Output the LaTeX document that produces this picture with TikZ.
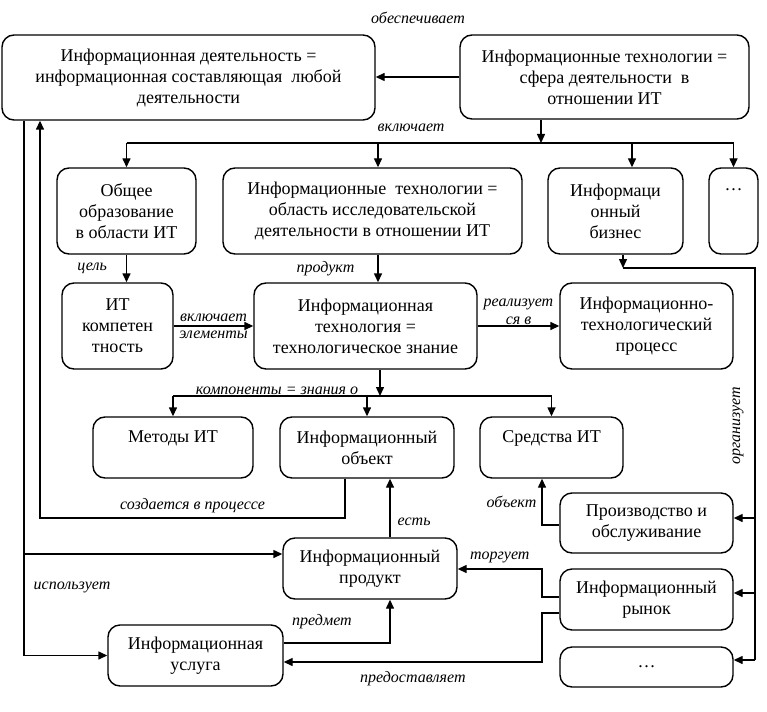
\documentclass[tikz,border=0pt]{standalone}
\usepackage{fontspec}
\setmainfont{Liberation Serif}
\usetikzlibrary{
    arrows.meta,
    positioning
}

\begin{document}
\begin{tikzpicture}[x=1pt, y=-1pt, line width=1.4pt, >={Triangle[length=9pt, width=8pt]},
        box/.style={draw, rounded corners=12pt, align=center, inner sep=0pt, font=\fontsize{18}{21}\selectfont},
        lbl/.style={inner sep=1pt, font=\fontsize{16}{18}\selectfont\itshape}]
                        \useasboundingbox (0, 0) rectangle (767, 711);

                        \node[box, minimum width=373pt, minimum height=85pt] (act) at (188.5, 77.5) {Информационная деятельность =\\информационная составляющая~ любой\\деятельности};
                        \node[box, minimum width=289pt, minimum height=84pt] (sphere) at (604.5, 77) {Информационные технологии =\\сфера деятельности~ в\\отношении ИТ};
                        \node[box, minimum width=139pt, minimum height=86pt] (edu) at (126.5, 211) {Общее\\образование\\в области ИТ};
                        \node[box, minimum width=299pt, minimum height=86pt] (research) at (372.5, 211) {Информационные~ технологии =\\область исследовательской\\деятельности в отношении ИТ};
                        \node[box, minimum width=135pt, minimum height=86pt] (biz) at (615.5, 211) {Информаци\\онный\\бизнес};
                        \node[box, minimum width=49pt, minimum height=86pt] (etca) at (733.5, 211) {\dots\\\mbox{}\\\mbox{}};
                        \node[box, minimum width=111pt, minimum height=86pt] (comp) at (117.5, 326) {ИТ\\компетен\\тность};
                        \node[box, minimum width=223pt, minimum height=86pt] (know) at (365.5, 326) {Информационная\\технология =\\технологическое знание};
                        \node[box, minimum width=173pt, minimum height=86pt] (proc) at (646.5, 326) {Информационно-\\технологический\\процесс};
                        \node[box, minimum width=160pt, minimum height=61pt] (methods) at (173, 447.5) {Методы ИТ\\\mbox{}};
                        \node[box, minimum width=174pt, minimum height=61pt] (object) at (367, 447.5) {Информационный\\объект};
                        \node[box, minimum width=143pt, minimum height=61pt] (means) at (551.5, 447.5) {Средства ИТ\\\mbox{}};
                        \node[box, minimum width=173pt, minimum height=60pt] (prod) at (646.5, 523) {Производство и\\обслуживание};
                        \node[box, minimum width=174pt, minimum height=61pt] (product) at (370, 568.5) {Информационный\\продукт};
                        \node[box, minimum width=173pt, minimum height=61pt] (market) at (646.5, 599.5) {Информационный\\рынок};
                        \node[box, minimum width=175pt, minimum height=61pt] (service) at (195.5, 655.5) {Информационная\\услуга};
                        \node[box, minimum width=173pt, minimum height=40pt] (etcb) at (646.5, 667) {\dots};

                        \node[lbl] (provides) at (418, 18) {обеспечивает};
                        \node[lbl] (includes) at (411, 128) {включает};
                        \node[lbl] (uses) at (72, 587) {использует};
                        \node[lbl, rotate=90] (organizes) at (738, 426) {организует};

                        \coordinate (incl) at (541, 143);
                        \coordinate (jb) at (378, 143);
                        \coordinate (jc) at (632, 143);
                        \coordinate (comps) at (380, 396);
                        \coordinate (crob) at (345, 518);
                        \coordinate (cr) at (40, 518);
                        \coordinate (use) at (24, 554);
                        \coordinate (is) at (390, 643);
                        \coordinate (provm) at (542, 613);
                        \coordinate (prov) at (542, 662);
                        \coordinate (tradem) at (542, 597);
                        \coordinate (trade) at (542, 569);
                        \coordinate (objm) at (542, 525);
                        \coordinate (orga) at (623, 268);
                        \coordinate (orgb) at (755, 268);
                        \coordinate (oa) at (755, 518);
                        \coordinate (ob) at (755, 593);
                        \coordinate (oc) at (755, 660);

                        \draw[->] (sphere.west) -- (sphere.west -| act.east);
                        \draw[->] (sphere.south -| incl) -- (incl);
                        \draw (edu.north |- incl) -- (etca.north |- incl);
                        \draw[->] (edu.north |- incl) -- (edu.north);
                        \draw[->] (jb) -- (jb |- research.north);
                        \draw[->] (jc) -- (jc |- biz.north);
                        \draw[->] (etca.north |- incl) -- (etca.north);

                        \draw[->] (edu.south) -- (edu.south |- comp.north) node[lbl, midway, left=18pt] {цель};
                        \draw[->] (jb |- research.south) -- (jb |- know.north) node[lbl, midway, left=22pt] {продукт};
                        \draw[->] (comp) -- (know)
                            node[lbl, midway, above=3pt] {включает}
                            node[lbl, midway, below=3.5pt] {элементы};
                        \draw[->] (know) -- (proc) node[lbl, midway, above, align=center] {реализует\\ся в};

                        \draw[->] (comps |- know.south) -- (comps);
                        \draw (methods.north |- comps) -- (means.north |- comps) node[lbl, pos=0.275, above] {компоненты = знания о};
                        \draw[->] (methods.north |- comps) -- (methods.north);
                        \draw[->] (object.north |- comps) -- (object.north);
                        \draw[->] (means.north |- comps) -- (means.north);

                        \draw[->] (crob |- object.south) -- (crob) -- (cr) node[lbl, midway, above=3pt] {создается в процессе} -- (cr |- act.south);
                        \draw[->] (use |- act.south) -- (use |- service.west) -- (service.west);
                        \draw[->] (use) -- (use -| product.west);

                        \draw[->] (is |- product.north) -- (is |- object.south) node[lbl, pos=0.27, right=6pt] {есть};
                        \draw[->] (is -| service.east) -- (is) node[lbl, pos=0.36, above=12pt] {предмет} -- (is |- product.south);
                        \draw[->] (provm -| market.west) -- (provm) -- (prov) -- (prov -| service.east) node[lbl, midway, below=8pt] {предоставляет};
                        \draw[->] (tradem -| market.west) -- (tradem) -- (trade) -- (trade -| product.east) node[lbl, midway, above=4pt] {торгует};
                        \draw[->] (objm -| prod.west) -- (objm) -- (objm |- means.south) node[lbl, midway, left=4pt] {объект};

                        \draw[->] (orga |- biz.south) -- (orga);
                        \draw (orga) -- (orgb) -- (oc);
                        \draw[->] (oa) -- (oa -| prod.east);
                        \draw[->] (ob) -- (ob -| market.east);
                        \draw[->] (oc) -- (oc -| etcb.east);
                    \end{tikzpicture}
\end{document}
